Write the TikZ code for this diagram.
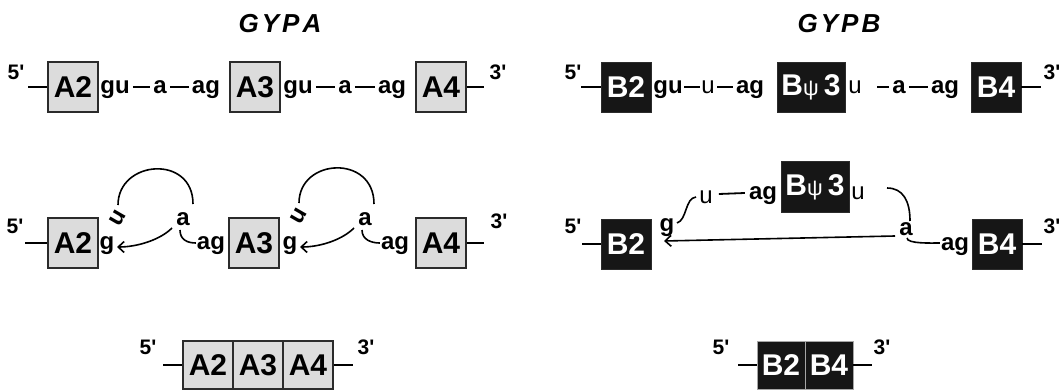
\documentclass[tikz,border=0pt]{standalone}
\usepackage{fontspec}
\setmainfont{Liberation Sans}
\usetikzlibrary{arrows.meta,calc}
\definecolor{boxgray}{HTML}{DCDCDC}
\definecolor{edgegray}{HTML}{2B2B2B}
\definecolor{boxblack}{HTML}{161616}
\begin{document}
\begin{tikzpicture}[x=1pt,y=-1pt,
  gbox/.style={draw=edgegray,line width=1.6pt,fill=boxgray,minimum width=50pt,minimum height=50pt,inner sep=0pt,font=\fontsize{30}{30}\selectfont\bfseries},
  bbox/.style={draw=edgegray,line width=0.8pt,fill=boxblack,minimum width=50pt,minimum height=50pt,inner sep=0pt,text=white,font=\fontsize{30}{30}\selectfont\bfseries},
  lab/.style={anchor=base,inner sep=3pt,font=\fontsize{24}{24}\selectfont\bfseries},
  thinlab/.style={anchor=base,inner sep=3pt,font=\fontsize{24}{24}\selectfont},
  prime/.style={inner sep=0pt,font=\fontsize{21}{21}\selectfont\bfseries},
  titlelab/.style={inner sep=0pt,font=\fontsize{26}{26}\selectfont\bfseries\itshape},
  wire/.style={line width=1.8pt},
  loopline/.style={line width=1.6pt},
  arrowline/.style={line width=1.6pt,-{Straight Barb[length=6pt,width=11pt]}},
]
\useasboundingbox (0,0) rectangle (1059,390);

% ---------- titles ----------
\node[titlelab] (tA) at (280,24) {G\kern3pt Y\kern3pt P\kern3pt A};
\node[titlelab] (tB) at (839,24) {G\kern3pt Y\kern3pt P\kern3pt B};

% ================= GYPA row 1 =================
\node[prime] (p5a1) at (16,72) {5\textquotesingle};
\coordinate (la1) at (28,87);
\node[gbox] (A2r1) at (73,87) {A2};
\node[lab] (gua1) at (115,94) {gu};
\node[lab] (aa1) at (160,94) {a};
\node[lab] (aga1) at (206,94) {ag};
\node[gbox] (A3r1) at (255,87) {A3};
\node[lab] (gua2) at (298,94) {gu};
\node[lab] (aa2) at (345,94) {a};
\node[lab] (aga2) at (392,94) {ag};
\node[gbox] (A4r1) at (441,87) {A4};
\coordinate (ra1) at (484,87);
\node[prime] (p3a1) at (498,72) {3\textquotesingle};
\draw[wire] (la1) -- (A2r1.west);
\draw[wire] ($(gua1.base east)+(0,-7)$) -- ($(aa1.base west)+(0,-7)$);
\draw[wire] ($(aa1.base east)+(0,-7)$) -- ($(aga1.base west)+(0,-7)$);
\draw[wire] ($(gua2.base east)+(0,-7)$) -- ($(aa2.base west)+(0,-7)$);
\draw[wire] ($(aa2.base east)+(0,-7)$) -- ($(aga2.base west)+(0,-7)$);
\draw[wire] (A4r1.east) -- (ra1);

% ================= GYPB row 1 =================
\node[prime] (p5b1) at (573,72) {5\textquotesingle};
\coordinate (lb1) at (581,87);
\node[bbox] (B2r1) at (626,87) {B2};
\node[lab,inner sep=1.5pt] (gub1) at (668,94) {gu};
\node[thinlab,inner sep=1.5pt] (ub1) at (708,94) {u};
\node[lab] (agb1) at (750,94) {ag};
\node[bbox,minimum width=68pt] (BP3r1) at (811,87) {B{\mdseries\fontsize{22}{22}\selectfont ψ}\kern5pt 3};
\node[thinlab] (ub2) at (855,94) {u};
\coordinate (gapb1) at (877,87);
\node[lab] (ab1) at (899,94) {a};
\node[lab] (agb2) at (945,94) {ag};
\node[bbox] (B4r1) at (996,87) {B4};
\coordinate (rb1) at (1041,87);
\node[prime] (p3b1) at (1052,72) {3\textquotesingle};
\draw[wire] (lb1) -- (B2r1.west);
\draw[wire] ($(gub1.base east)+(0,-7)$) -- ($(ub1.base west)+(0,-7)$);
\draw[wire] ($(ub1.base east)+(1,-7)$) -- ($(agb1.base west)+(0,-7)$);
\draw[wire] (gapb1) -- ($(ab1.base west)+(0,-7)$);
\draw[wire] ($(ab1.base east)+(0,-7)$) -- ($(agb2.base west)+(0,-7)$);
\draw[wire] (B4r1.east) -- (rb1);

% ================= GYPA row 2 =================
\node[prime] (p5a2) at (15,226) {5\textquotesingle};
\coordinate (la2) at (25,243);
\node[gbox] (A2r2) at (73,243) {A2};
\node[lab] (ga21) at (107,249) {g};
\node[lab,anchor=center,rotate=60] (ua21) at (118,218) {u};
\node[lab] (aa21) at (183,225) {a};
\node[lab] (aga21) at (211,249) {ag};
\node[gbox] (A3r2) at (254,243) {A3};
\node[lab] (ga22) at (290,249) {g};
\node[lab,anchor=center,rotate=60] (ua22) at (299,216) {u};
\node[lab] (aa22) at (365,225) {a};
\node[lab] (aga22) at (395,249) {ag};
\node[gbox] (A4r2) at (441,243) {A4};
\coordinate (ra2) at (484,243);
\node[prime] (p3a2) at (499,221) {3\textquotesingle};
\draw[wire] (la2) -- (A2r2.west);
\draw[wire] (A4r2.east) -- (ra2);
% loops
\draw[loopline] ($(ua21)+(0,-13)$) .. controls +(0,-45) and +(0,-50) .. ($(aa21.base)+(10,-21)$);
\draw[loopline] ($(ua22)+(0,-13)$) .. controls +(0,-45) and +(0,-50) .. ($(aa22.base)+(9,-21)$);
% arrows
\draw[arrowline] ($(aa21.base)+(-11,3)$) .. controls +(-12,12) and +(20,0) .. ($(ga21.base)+(10,-2)$);
\draw[arrowline] ($(aa22.base)+(-11,3)$) .. controls +(-12,12) and +(20,0) .. ($(ga22.base)+(10,-2)$);
% tails
\draw[loopline] ($(aa21.base)+(-3,5)$) .. controls +(0,10) and +(-8,0) .. ($(aga21.base west)+(2,-6)$);
\draw[loopline] ($(aa22.base)+(-3,5)$) .. controls +(0,10) and +(-8,0) .. ($(aga22.base west)+(2,-6)$);

% ================= GYPB row 2 =================
\node[prime] (p5b2) at (573,226) {5\textquotesingle};
\coordinate (lb2) at (582,244);
\node[bbox] (B2r2) at (626,244) {B2};
\node[lab] (gb2) at (667,231) {g};
\node[thinlab] (ub21) at (706,203) {u};
\node[lab] (agb21) at (763,199) {ag};
\node[bbox,minimum width=68pt,minimum height=51pt] (BP3r2) at (815,187) {B{\mdseries\fontsize{22}{22}\selectfont ψ}\kern5pt 3};
\node[thinlab] (ub22) at (858,199) {u};
\node[lab] (ab2) at (906,235) {a};
\node[lab] (agb22) at (955,250) {ag};
\node[bbox] (B4r2) at (997,244) {B4};
\coordinate (rb2) at (1042,244);
\node[prime] (p3b2) at (1052,226) {3\textquotesingle};
\draw[wire] (lb2) -- (B2r2.west);
\draw[wire] (B4r2.east) -- (rb2);
\draw[wire] ($(ub21.base east)+(3,-9)$) -- ($(agb21.base west)+(-1,-6)$);
\draw[arrowline] ($(ab2.base)+(-11,1)$) -- ($(gb2.base)+(-3,10)$);
\draw[loopline] ($(gb2.base)+(10,-8)$) .. controls +(10,-3) and +(-11,1) .. ($(ub21.base)+(-10,-6)$);
\draw[loopline] ($(ub22.base)+(29,-11)$) .. controls +(16,0) and +(0,-20) .. ($(ab2.base)+(4,-14)$);
\draw[loopline] ($(ab2.base)+(1,3)$) .. controls +(0,6) and +(-8,0) .. ($(agb22.base west)+(2,-7)$);

% ================= row 3 =================
\node[prime] (p5a3) at (148,347) {5\textquotesingle};
\coordinate (la3) at (163,365);
\node[gbox,minimum height=48pt] (A2r3) at (208,365) {A2};
\node[gbox,minimum height=48pt] (A3r3) at (258,365) {A3};
\node[gbox,minimum height=48pt] (A4r3) at (308,365) {A4};
\coordinate (ra3) at (353,365);
\node[prime] (p3a3) at (366,347) {3\textquotesingle};
\draw[wire] (la3) -- (A2r3.west);
\draw[wire] (A4r3.east) -- (ra3);

\node[prime] (p5b3) at (721,347) {5\textquotesingle};
\coordinate (lb3) at (738,365);
\node[bbox,minimum width=48pt,minimum height=48pt,draw=gray!70] (B2r3) at (781,365) {B2};
\node[bbox,minimum width=48pt,minimum height=48pt,draw=gray!70] (B4r3) at (829,365) {B4};
\coordinate (rb3) at (872,365);
\node[prime] (p3b3) at (882,347) {3\textquotesingle};
\draw[wire] (lb3) -- (B2r3.west);
\draw[wire] (B4r3.east) -- (rb3);
\end{tikzpicture}
\end{document}
